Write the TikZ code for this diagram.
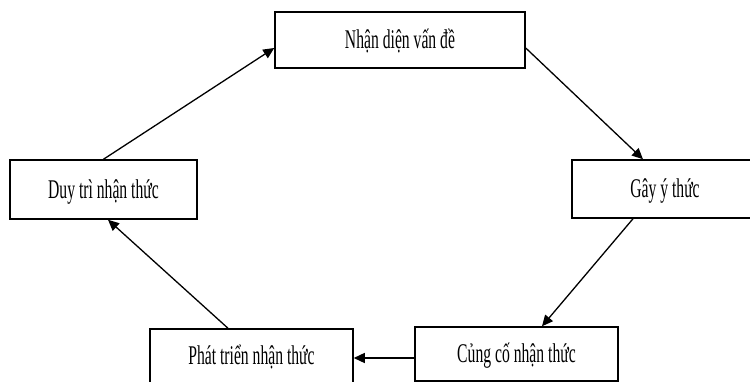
\documentclass[tikz,border=0pt]{standalone}
\usepackage{fontspec}
\usepackage{graphicx}
\setmainfont{Liberation Serif}
\usetikzlibrary{arrows.meta}
\newcommand{\sqz}[1]{\scalebox{0.58}[1]{#1}}
\tikzset{
  stepbox/.style={draw=black, line width=1.5pt, fill=white, inner sep=0pt,
    font=\fontsize{27}{31}\selectfont, text height=17.9pt, text depth=0pt, align=center},
  flow/.style={line width=1.3pt, draw=black, -{Triangle[length=11pt,width=10pt]}}
}
\begin{document}
\begin{tikzpicture}[x=1pt,y=-1pt]
\useasboundingbox (0,0) rectangle (750,382);
\clip (0,0) rectangle (750,382);
\fill[white] (0,0) rectangle (750,382);
\node[stepbox, minimum width=250pt, minimum height=56pt] (nhan) at (400,40) {\sqz{Nhận diện vấn đề}};
\node[stepbox, minimum width=187pt, minimum height=59pt] (duytri) at (103.5,189.5) {\sqz{Duy trì nhận thức}};
\node[stepbox, minimum width=186pt, minimum height=58pt] (gay) at (665,189) {\sqz{Gây ý thức}};
\node[stepbox, minimum width=203pt, minimum height=54pt] (cungco) at (516.5,354) {\sqz{Củng cố nhận thức}};
\node[stepbox, minimum width=203pt, minimum height=54pt] (phattrien) at (251.5,356) {\sqz{Phát triển nhận thức}};
\draw[flow] (duytri.north) -- ([yshift=-8pt]nhan.west);
\draw[flow] ([yshift=-8pt]nhan.east) -- ([xshift=-22pt]gay.north);
\draw[flow] ([xshift=-32pt]gay.south) -- ([xshift=25.5pt]cungco.north);
\draw[flow] ([yshift=-4pt]cungco.west) -- ([yshift=-4pt]cungco.west -| phattrien.east);
\draw[flow] ([xshift=-23.5pt]phattrien.north) -- ([xshift=4.5pt]duytri.south);
\end{tikzpicture}
\end{document}
